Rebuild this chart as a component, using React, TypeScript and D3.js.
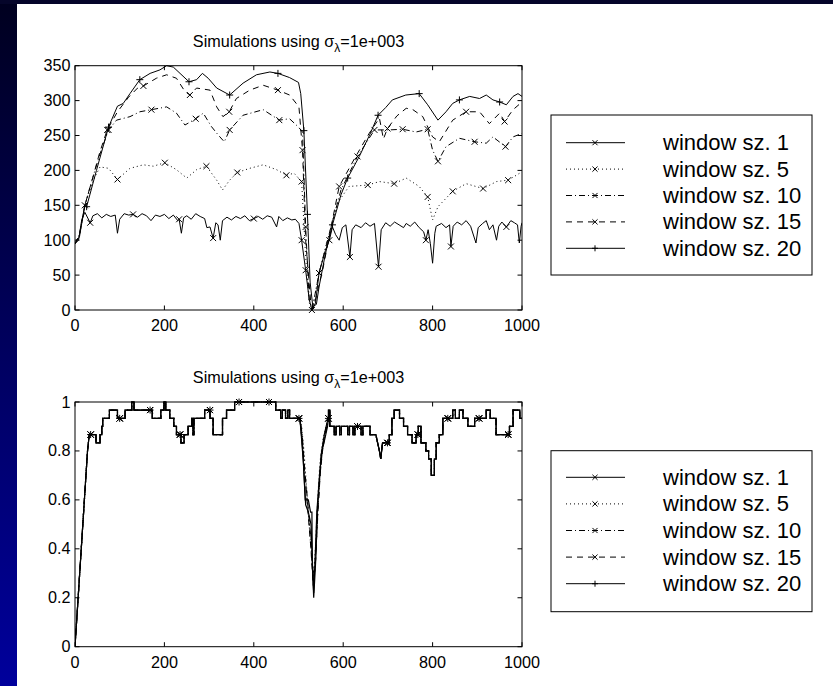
import React from "react";
import * as d3 from "d3";

// ---- data ----
const X_TICKS = [0, 200, 400, 600, 800, 1000];
const Y_TICKS_TOP = [0, 50, 100, 150, 200, 250, 300, 350];
const Y_TICKS_BOT = [0, 0.2, 0.4, 0.6, 0.8, 1];
const LEGEND_NAMES = ["window sz. 1", "window sz. 5", "window sz. 10", "window sz. 15", "window sz. 20"];

// top panel (x, value)
const top1: [number, number][] = [[0,95],[8,100],[15,129],[22,140],[34,125],[40,135],[50,138],[60,132],[70,137],[80,134],[90,136],[95,110],[100,130],[110,138],[120,136],[130,137],[140,133],[150,138],[160,135],[170,128],[180,136],[190,134],[200,137],[210,131],[220,136],[230,128],[233,130],[238,110],[243,132],[250,135],[260,130],[270,138],[280,134],[290,131],[295,118],[302,119],[309,103],[315,125],[320,122],[325,100],[330,128],[340,133],[350,129],[360,134],[370,131],[380,135],[390,128],[400,131],[410,134],[420,130],[430,135],[440,133],[451,119],[456,134],[465,128],[475,132],[485,129],[493,130],[501,124],[507,100],[516,57],[524,15],[530,0],[538,10],[546,53],[560,85],[569,100],[576,119],[583,108],[591,100],[598,118],[606,122],[615,76],[620,115],[628,122],[640,118],[650,125],[660,120],[670,124],[679,62],[685,115],[695,125],[705,120],[715,126],[725,122],[735,118],[741,124],[750,120],[760,126],[770,118],[780,112],[785,100],[790,115],[795,95],[800,67],[805,110],[808,120],[820,124],[830,118],[838,122],[841,91],[846,120],[855,126],[865,122],[875,128],[885,120],[897,96],[902,118],[912,124],[920,128],[927,115],[935,122],[943,100],[948,120],[955,126],[965,119],[975,128],[983,125],[990,122],[994,96],[998,120],[1000,125]];
const top5: [number, number][] = [[0,95],[10,108],[22,150],[41,186],[56,205],[75,203],[95,187],[123,203],[153,208],[175,206],[201,211],[227,201],[250,189],[272,201],[294,206],[317,186],[330,172],[346,186],[363,197],[391,203],[421,208],[451,201],[473,193],[490,196],[507,184],[516,76],[524,10],[531,1],[546,53],[569,110],[587,153],[613,177],[655,179],[681,184],[714,181],[741,189],[770,177],[789,162],[800,129],[812,148],[845,170],[875,181],[913,174],[943,184],[969,186],[1000,198]];
const top10: [number, number][] = [[0,95],[10,108],[22,150],[40,190],[55,222],[75,258],[93,272],[123,277],[145,284],[171,287],[205,291],[227,282],[246,265],[270,274],[287,282],[305,263],[320,251],[334,241],[346,258],[376,279],[421,287],[457,272],[480,274],[500,262],[509,255],[516,119],[524,14],[531,2],[546,53],[569,110],[595,172],[632,220],[670,258],[703,258],[733,259],[763,255],[789,259],[800,229],[812,213],[830,234],[860,246],[894,241],[920,239],[935,248],[963,234],[980,248],[1000,253]];
const top15: [number, number][] = [[0,95],[10,108],[22,150],[40,190],[55,225],[72,258],[95,284],[120,305],[140,318],[153,321],[182,332],[205,337],[227,332],[246,313],[257,308],[272,318],[302,315],[317,291],[331,277],[345,284],[361,303],[391,315],[421,322],[454,315],[480,308],[501,291],[509,229],[516,100],[527,14],[533,2],[554,57],[576,129],[591,177],[628,220],[658,253],[681,275],[690,245],[699,260],[720,278],[741,289],[756,287],[778,277],[800,248],[815,241],[845,272],[875,284],[905,284],[927,267],[950,282],[961,270],[980,287],[1000,298]];
const top20: [number, number][] = [[0,95],[10,105],[22,150],[26,148],[48,200],[75,262],[95,292],[108,296],[123,310],[145,330],[168,339],[190,344],[205,350],[220,348],[235,339],[255,327],[272,330],[285,339],[298,332],[317,318],[346,308],[376,325],[406,337],[436,341],[454,339],[480,333],[500,326],[505,310],[512,257],[520,137],[526,40],[532,5],[540,8],[546,33],[560,80],[576,122],[595,165],[610,189],[636,220],[660,252],[678,279],[695,290],[710,301],[740,308],[770,310],[789,294],[812,272],[830,284],[845,296],[860,301],[883,306],[905,303],[920,308],[935,301],[950,298],[965,294],[980,306],[991,310],[1000,306]];

const topMarks1 = [34, 130, 233, 309, 400, 507, 516, 530, 546, 569, 615, 679, 785, 841, 965];
const topMarks5 = [22, 95, 201, 294, 363, 473, 507, 546, 655, 714, 789, 845, 913, 969];
const topMarks10 = [75, 171, 270, 346, 457, 516, 632, 670, 733, 789, 812, 894, 963];
const topMarks15 = [72, 153, 257, 345, 454, 509, 591, 699, 875, 961];
const topMarks20 = [26, 75, 145, 255, 346, 454, 512, 520, 576, 610, 678, 770, 860, 950];

// bottom panel, window sz. 1 (steps written as pairs of points)
const bot1: [number, number][] = [[0,0],[28,0.8],[32,0.867],[47,0.867],[47,0.833],[56,0.833],[56,0.867],[60,0.867],[60,0.9],[62,0.9],[62,0.933],[77,0.933],[77,0.967],[95,0.967],[95,0.933],[112,0.933],[112,0.967],[127,0.967],[127,1],[132,1],[132,0.967],[173,0.967],[173,0.933],[192,0.933],[192,0.967],[199,0.967],[199,1],[203,1],[203,0.967],[212,0.967],[212,0.933],[221,0.933],[221,0.9],[227,0.9],[227,0.867],[237,0.867],[237,0.833],[244,0.833],[244,0.867],[253,0.867],[253,0.9],[261,0.9],[261,0.933],[264,0.933],[264,0.867],[266,0.867],[266,0.933],[290,0.933],[290,0.967],[302,0.967],[302,0.933],[309,0.933],[309,0.867],[330,0.867],[330,0.933],[339,0.933],[339,0.967],[357,0.967],[357,1],[449,1],[449,0.967],[460,0.967],[460,0.933],[464,0.933],[464,0.967],[471,0.967],[471,0.933],[476,0.933],[476,0.967],[480,0.967],[480,0.933],[503,0.933],[505,0.9],[510,0.79],[515,0.6],[522,0.6],[527,0.55],[530,0.55],[531,0.33],[534,0.2],[537,0.3],[539,0.37],[542,0.55],[546,0.65],[551,0.79],[557,0.833],[561,0.867],[565,0.9],[567,0.933],[567,0.967],[570,0.967],[570,0.9],[580,0.9],[580,0.867],[584,0.867],[584,0.9],[592,0.9],[592,0.867],[596,0.867],[596,0.9],[610,0.9],[610,0.867],[614,0.867],[614,0.9],[622,0.9],[622,0.867],[626,0.867],[626,0.9],[640,0.9],[640,0.867],[644,0.867],[644,0.9],[660,0.9],[660,0.867],[673,0.867],[681,0.8],[684,0.767],[688,0.833],[703,0.833],[703,0.867],[709,0.867],[709,0.933],[714,0.933],[714,0.967],[726,0.967],[726,0.933],[735,0.933],[735,0.9],[744,0.9],[744,0.867],[754,0.867],[754,0.833],[763,0.833],[763,0.867],[768,0.867],[768,0.9],[774,0.9],[774,0.833],[785,0.833],[785,0.8],[791,0.8],[791,0.767],[797,0.767],[797,0.7],[804,0.7],[804,0.767],[808,0.767],[808,0.833],[815,0.833],[815,0.867],[823,0.867],[823,0.933],[845,0.933],[845,0.967],[851,0.967],[851,0.933],[860,0.933],[860,0.967],[868,0.967],[868,0.933],[879,0.933],[879,0.9],[894,0.9],[894,0.933],[920,0.933],[920,0.967],[929,0.967],[929,0.933],[942,0.933],[942,0.867],[972,0.867],[972,0.9],[980,0.9],[980,0.967],[995,0.967],[995,0.933],[1000,0.933]];
// the other windows follow the same steps except in the dip
const dip5: [number, number][] = [[503,0.933],[507,0.9],[512,0.8],[518,0.65],[524,0.5],[530,0.35],[534,0.3],[538,0.4],[543,0.6],[548,0.75],[555,0.85],[562,0.9],[567,0.933]];
const dip10: [number, number][] = [[503,0.933],[508,0.87],[514,0.72],[520,0.6],[527,0.45],[533,0.28],[537,0.32],[542,0.5],[547,0.68],[553,0.8],[560,0.87],[567,0.933]];
const dip15: [number, number][] = [[503,0.933],[508,0.85],[514,0.7],[520,0.58],[528,0.4],[533,0.25],[538,0.35],[543,0.55],[549,0.72],[556,0.84],[563,0.9],[567,0.933]];
const dip20: [number, number][] = [[503,0.933],[506,0.87],[511,0.75],[516,0.58],[522,0.55],[528,0.5],[532,0.3],[534,0.22],[538,0.4],[541,0.55],[547,0.7],[552,0.8],[558,0.87],[566,0.933]];
const botMarks = [35, 100, 168, 235, 302, 367, 434, 501, 567, 632, 699, 767, 834, 904, 969];

const withDip = (base: [number, number][], dip: [number, number][]) => {
  const a = dip[0][0], b = dip[dip.length - 1][0];
  return [...base.filter((d) => d[0] < a), ...dip, ...base.filter((d) => d[0] > b)];
};

// ---- styles ----
const DASHES = [undefined, "1,3", "6,3,1,3", "6,5", undefined];
const MARKERS = ["x", "x", "x", "x", "+"];
const FONT = "'Liberation Sans', Arial, Helvetica, sans-serif";

const X0 = 75, X1 = 522;

function yAt(data: [number, number][], x: number) {
  for (let i = 0; i < data.length - 1; i++) {
    const [xa, ya] = data[i], [xb, yb] = data[i + 1];
    if (x >= xa && x <= xb) return xb === xa ? ya : ya + ((yb - ya) * (x - xa)) / (xb - xa);
  }
  return data[data.length - 1][1];
}

function Marker({ x, y, type, s }: { x: number; y: number; type: string; s: number }) {
  if (type === "+")
    return <path d={`M${x - s},${y}H${x + s}M${x},${y - s}V${y + s}`} stroke="#000" strokeWidth={1} />;
  const k = s * 0.85;
  return <path d={`M${x - k},${y - k}L${x + k},${y + k}M${x - k},${y + k}L${x + k},${y - k}`} stroke="#000" strokeWidth={1} />;
}

function Panel({ id, top, bottom, yMax, yTicks, series, marks, width }: any) {
  const xScale = d3.scaleLinear().domain([0, 1000]).range([X0, X1]);
  const yScale = d3.scaleLinear().domain([0, yMax]).range([bottom, top]);
  const line = d3.line<[number, number]>().x((d) => xScale(d[0])).y((d) => yScale(d[1]));
  const tl = 4.5;
  const cx = (X0 + X1) / 2;
  return (
    <g>
      <text x={cx} y={top - 19} textAnchor="middle" fontSize={16.2} fontFamily={FONT}>
        Simulations using σ
        <tspan fontSize={12} dy={5}>λ</tspan>
        <tspan dy={-5}>=1e+003</tspan>
      </text>
      <clipPath id={id}>
        <rect x={X0} y={top - 1} width={X1 - X0} height={bottom - top + 2} />
      </clipPath>
      <g clipPath={`url(#${id})`}>
        {series.map((s: [number, number][], i: number) => (
          <path key={i} d={line(s) || ""} fill="none" stroke="#000" strokeWidth={width} strokeDasharray={DASHES[i]} />
        ))}
      </g>
      {series.map((s: [number, number][], i: number) =>
        marks[i].map((mx: number, j: number) => (
          <Marker key={i + "-" + j} x={xScale(mx)} y={yScale(yAt(s, mx))} type={MARKERS[i]} s={3.5} />
        ))
      )}
      <rect x={X0} y={top} width={X1 - X0} height={bottom - top} fill="none" stroke="#000" strokeWidth={1} />
      {X_TICKS.map((t) => (
        <g key={"x" + t}>
          <line x1={xScale(t)} x2={xScale(t)} y1={bottom} y2={bottom - tl} stroke="#000" />
          <line x1={xScale(t)} x2={xScale(t)} y1={top} y2={top + tl} stroke="#000" />
          <text x={xScale(t)} y={bottom + 21} textAnchor="middle" fontSize={16.2} fontFamily={FONT}>{t}</text>
        </g>
      ))}
      {yTicks.map((t: number) => (
        <g key={"y" + t}>
          <line x1={X0} x2={X0 + tl} y1={yScale(t)} y2={yScale(t)} stroke="#000" />
          <line x1={X1} x2={X1 - tl} y1={yScale(t)} y2={yScale(t)} stroke="#000" />
          <text x={70.5} y={yScale(t) + 5.5} textAnchor="end" fontSize={16.2} fontFamily={FONT}>{String(t)}</text>
        </g>
      ))}
    </g>
  );
}

function Legend({ top, bottom, rowY, gap }: { top: number; bottom: number; rowY: number; gap: number }) {
  return (
    <g>
      <rect x={551} y={top} width={261} height={bottom - top} fill="#fff" stroke="#000" strokeWidth={1} />
      {LEGEND_NAMES.map((name, i) => {
        const y = rowY + i * gap;
        return (
          <g key={name}>
            <line x1={566} x2={625} y1={y} y2={y} stroke="#000" strokeWidth={1} strokeDasharray={DASHES[i]} />
            <Marker x={595} y={y} type={MARKERS[i]} s={3} />
            <text x={663} y={y + 7.5} fontSize={22} fontFamily={FONT}>{name}</text>
          </g>
        );
      })}
    </g>
  );
}

export default function App() {
  const topSeries = [top1, top5, top10, top15, top20];
  const topMarks = [topMarks1, topMarks5, topMarks10, topMarks15, topMarks20];
  const botSeries = [bot1, withDip(bot1, dip5), withDip(bot1, dip10), withDip(bot1, dip15), withDip(bot1, dip20)];
  const botMarksAll = [botMarks, botMarks, botMarks, botMarks, botMarks];
  return (
    <svg width={833} height={686} style={{ position: "absolute", left: 0, top: 0 }}>
      <defs>
        <linearGradient id="bg" x1="0" y1="0" x2="0" y2="1">
          <stop offset="0" stopColor="#00001f" />
          <stop offset="1" stopColor="#00009c" />
        </linearGradient>
      </defs>
      <rect x={0} y={0} width={833} height={686} fill="url(#bg)" />
      <rect x={0} y={0} width={833} height={4} fill="#05052a" />
      <rect x={17} y={4} width={816} height={682} fill="#fff" />
      <Panel id="c1" top={65.7} bottom={310} yMax={350} yTicks={Y_TICKS_TOP}
        series={topSeries} marks={topMarks} width={1} />
      <Panel id="c2" top={402} bottom={646.7} yMax={1} yTicks={Y_TICKS_BOT}
        series={botSeries} marks={botMarksAll} width={1.2} />
      <Legend top={115} bottom={275} rowY={142.7} gap={26.4} />
      <Legend top={450.7} bottom={611.7} rowY={477.3} gap={26.6} />
    </svg>
  );
}
